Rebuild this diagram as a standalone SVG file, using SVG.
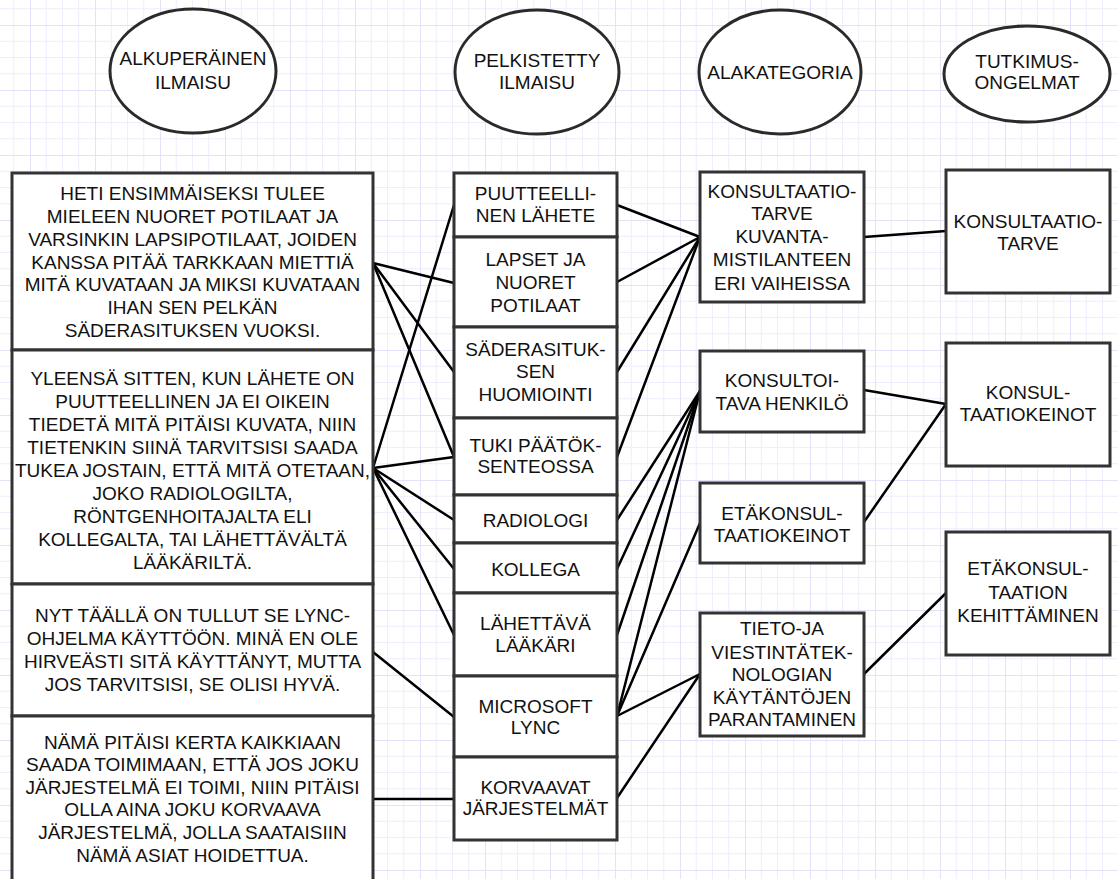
<svg xmlns="http://www.w3.org/2000/svg" width="1118" height="879" viewBox="0 0 1118 879">
<defs>
<pattern id="grid" x="30" y="25" width="65" height="65" patternUnits="userSpaceOnUse">
<path d="M16.25 0V65M32.5 0V65M48.75 0V65M0 16.25H65M0 32.5H65M0 48.75H65" stroke="#eeeefc" stroke-width="1" fill="none"/>
<path d="M0.5 0V65M0 0.5H65" stroke="#e2e2f8" stroke-width="1" fill="none"/>
</pattern>
<style>
.box{fill:#fff;stroke:#333;stroke-width:3}
.el{fill:#fff;stroke:#2a2a2a;stroke-width:3}
.t{font-family:"Liberation Sans",Arial,sans-serif;font-size:19px;fill:#111;text-anchor:middle}
.c{stroke:#000;stroke-width:2.5;fill:none;stroke-linecap:round}
</style>
</defs>
<rect width="1118" height="879" fill="#fff"/>
<rect width="1118" height="879" fill="url(#grid)"/>

<g id="h1"><ellipse class="el" cx="193" cy="71" rx="83" ry="62"/>
<text class="t" x="193" y="65">ALKUPERÄINEN</text><text class="t" x="193" y="89">ILMAISU</text></g>
<g id="h2"><ellipse class="el" cx="537" cy="72" rx="82" ry="62"/>
<text class="t" x="537" y="67">PELKISTETTY</text><text class="t" x="537" y="89">ILMAISU</text></g>
<g id="h3"><ellipse class="el" cx="780" cy="72" rx="81" ry="62"/>
<text class="t" x="780" y="79">ALAKATEGORIA</text></g>
<g id="h4"><ellipse class="el" cx="1027" cy="74" rx="83" ry="48"/>
<text class="t" x="1027" y="68">TUTKIMUS-</text><text class="t" x="1027" y="89">ONGELMAT</text></g>

<g id="connectors">
<line class="c" x1="373" y1="263" x2="454" y2="283"/>
<line class="c" x1="373" y1="263" x2="454" y2="372"/>
<line class="c" x1="373" y1="263" x2="454" y2="457"/>
<line class="c" x1="373" y1="468" x2="454" y2="205"/>
<line class="c" x1="373" y1="468" x2="454" y2="457"/>
<line class="c" x1="373" y1="468" x2="454" y2="520"/>
<line class="c" x1="373" y1="468" x2="454" y2="569"/>
<line class="c" x1="373" y1="468" x2="454" y2="635"/>
<line class="c" x1="373" y1="652" x2="454" y2="717"/>
<line class="c" x1="373" y1="799" x2="454" y2="799"/>
<line class="c" x1="617" y1="205" x2="700" y2="237"/>
<line class="c" x1="617" y1="282" x2="700" y2="237"/>
<line class="c" x1="617" y1="372" x2="700" y2="237"/>
<line class="c" x1="617" y1="457" x2="700" y2="237"/>
<line class="c" x1="617" y1="520" x2="700" y2="391"/>
<line class="c" x1="617" y1="569" x2="700" y2="391"/>
<line class="c" x1="617" y1="635" x2="700" y2="391"/>
<line class="c" x1="617" y1="716" x2="700" y2="391"/>
<line class="c" x1="617" y1="716" x2="700" y2="523"/>
<line class="c" x1="617" y1="716" x2="700" y2="674"/>
<line class="c" x1="617" y1="798" x2="700" y2="674"/>
<line class="c" x1="864" y1="237" x2="946" y2="231"/>
<line class="c" x1="864" y1="390" x2="946" y2="404"/>
<line class="c" x1="864" y1="522" x2="946" y2="404"/>
<line class="c" x1="864" y1="674" x2="946" y2="593"/>
</g>

<g id="a1"><rect class="box" x="12" y="173" width="361" height="177"/>
<text class="t" x="192.5" y="200">HETI ENSIMMÄISEKSI TULEE</text>
<text class="t" x="192.5" y="223">MIELEEN NUORET POTILAAT JA</text>
<text class="t" x="192.5" y="246">VARSINKIN LAPSIPOTILAAT, JOIDEN</text>
<text class="t" x="192.5" y="269">KANSSA PITÄÄ TARKKAAN MIETTIÄ</text>
<text class="t" x="192.5" y="291">MITÄ KUVATAAN JA MIKSI KUVATAAN</text>
<text class="t" x="192.5" y="314">IHAN SEN PELKÄN</text>
<text class="t" x="192.5" y="337">SÄDERASITUKSEN VUOKSI.</text></g>
<g id="a2"><rect class="box" x="12" y="350" width="361" height="234"/>
<text class="t" x="192.5" y="385">YLEENSÄ SITTEN, KUN LÄHETE ON</text>
<text class="t" x="192.5" y="408">PUUTTEELLINEN JA EI OIKEIN</text>
<text class="t" x="192.5" y="431">TIEDETÄ MITÄ PITÄISI KUVATA, NIIN</text>
<text class="t" x="192.5" y="454">TIETENKIN SIINÄ TARVITSISI SAADA</text>
<text class="t" x="192.5" y="477">TUKEA JOSTAIN, ETTÄ MITÄ OTETAAN,</text>
<text class="t" x="192.5" y="500">JOKO RADIOLOGILTA,</text>
<text class="t" x="192.5" y="523">RÖNTGENHOITAJALTA ELI</text>
<text class="t" x="192.5" y="546">KOLLEGALTA, TAI LÄHETTÄVÄLTÄ</text>
<text class="t" x="192.5" y="569">LÄÄKÄRILTÄ.</text></g>
<g id="a3"><rect class="box" x="12" y="584" width="361" height="132"/>
<text class="t" x="192.5" y="622">NYT TÄÄLLÄ ON TULLUT SE LYNC-</text>
<text class="t" x="192.5" y="645">OHJELMA KÄYTTÖÖN. MINÄ EN OLE</text>
<text class="t" x="192.5" y="668">HIRVEÄSTI SITÄ KÄYTTÄNYT, MUTTA</text>
<text class="t" x="192.5" y="691">JOS TARVITSISI, SE OLISI HYVÄ.</text></g>
<g id="a4"><rect class="box" x="12" y="716" width="361" height="190"/>
<text class="t" x="192.5" y="749">NÄMÄ PITÄISI KERTA KAIKKIAAN</text>
<text class="t" x="192.5" y="771">SAADA TOIMIMAAN, ETTÄ JOS JOKU</text>
<text class="t" x="192.5" y="794">JÄRJESTELMÄ EI TOIMI, NIIN PITÄISI</text>
<text class="t" x="192.5" y="816">OLLA AINA JOKU KORVAAVA</text>
<text class="t" x="192.5" y="839">JÄRJESTELMÄ, JOLLA SAATAISIIN</text>
<text class="t" x="192.5" y="862">NÄMÄ ASIAT HOIDETTUA.</text></g>

<g id="p1"><rect class="box" x="454" y="173" width="163" height="64"/>
<text class="t" x="535.5" y="200">PUUTTEELLI-</text><text class="t" x="535.5" y="222">NEN LÄHETE</text></g>
<g id="p2"><rect class="box" x="454" y="237" width="163" height="90"/>
<text class="t" x="535.5" y="266">LAPSET JA</text><text class="t" x="535.5" y="289">NUORET</text><text class="t" x="535.5" y="312">POTILAAT</text></g>
<g id="p3"><rect class="box" x="454" y="327" width="163" height="91"/>
<text class="t" x="535.5" y="356">SÄDERASITUK-</text><text class="t" x="535.5" y="378">SEN</text><text class="t" x="535.5" y="401">HUOMIOINTI</text></g>
<g id="p4"><rect class="box" x="454" y="418" width="163" height="77"/>
<text class="t" x="535.5" y="452">TUKI PÄÄTÖK-</text><text class="t" x="535.5" y="473">SENTEOSSA</text></g>
<g id="p5"><rect class="box" x="454" y="495" width="163" height="48"/>
<text class="t" x="535.5" y="527">RADIOLOGI</text></g>
<g id="p6"><rect class="box" x="454" y="543" width="163" height="50"/>
<text class="t" x="535.5" y="576">KOLLEGA</text></g>
<g id="p7"><rect class="box" x="454" y="593" width="163" height="83"/>
<text class="t" x="535.5" y="630">LÄHETTÄVÄ</text><text class="t" x="535.5" y="652">LÄÄKÄRI</text></g>
<g id="p8"><rect class="box" x="454" y="676" width="163" height="81"/>
<text class="t" x="535.5" y="713">MICROSOFT</text><text class="t" x="535.5" y="734">LYNC</text></g>
<g id="p9"><rect class="box" x="454" y="757" width="163" height="83"/>
<text class="t" x="535.5" y="794">KORVAAVAT</text><text class="t" x="535.5" y="815">JÄRJESTELMÄT</text></g>

<g id="k1"><rect class="box" x="700" y="172" width="164" height="130"/>
<text class="t" x="782" y="198">KONSULTAATIO-</text><text class="t" x="782" y="220">TARVE</text><text class="t" x="782" y="243">KUVANTA-</text><text class="t" x="782" y="266">MISTILANTEEN</text><text class="t" x="782" y="290">ERI VAIHEISSA</text></g>
<g id="k2"><rect class="box" x="700" y="351" width="164" height="81"/>
<text class="t" x="782" y="387">KONSULTOI-</text><text class="t" x="782" y="410">TAVA HENKILÖ</text></g>
<g id="k3"><rect class="box" x="700" y="483" width="164" height="80"/>
<text class="t" x="782" y="520">ETÄKONSUL-</text><text class="t" x="782" y="542">TAATIOKEINOT</text></g>
<g id="k4"><rect class="box" x="700" y="613" width="164" height="123"/>
<text class="t" x="782" y="635">TIETO-JA</text><text class="t" x="782" y="659">VIESTINTÄTEK-</text><text class="t" x="782" y="681">NOLOGIAN</text><text class="t" x="782" y="704">KÄYTÄNTÖJEN</text><text class="t" x="782" y="726">PARANTAMINEN</text></g>

<g id="r1"><rect class="box" x="946" y="170" width="164" height="123"/>
<text class="t" x="1028" y="228">KONSULTAATIO-</text><text class="t" x="1028" y="250">TARVE</text></g>
<g id="r2"><rect class="box" x="946" y="343" width="164" height="123"/>
<text class="t" x="1028" y="399">KONSUL-</text><text class="t" x="1028" y="421">TAATIOKEINOT</text></g>
<g id="r3"><rect class="box" x="946" y="532" width="164" height="123"/>
<text class="t" x="1028" y="575">ETÄKONSUL-</text><text class="t" x="1028" y="599">TAATION</text><text class="t" x="1028" y="622">KEHITTÄMINEN</text></g>
</svg>
